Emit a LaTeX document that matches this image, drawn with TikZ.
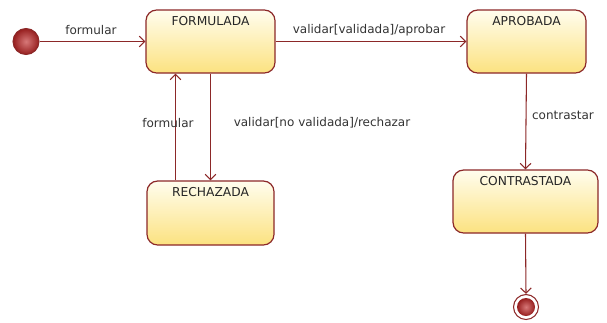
\documentclass[tikz,border=0pt]{standalone}
\usepackage{fontspec}
\setmainfont{DejaVu Sans}
\usetikzlibrary{arrows.meta,shadings}
\definecolor{umlred}{RGB}{140,40,40}
\definecolor{umltop}{RGB}{255,253,238}
\definecolor{umlbot}{RGB}{252,226,128}
\definecolor{umlpink}{RGB}{215,120,120}
\definecolor{umldark}{RGB}{150,30,30}
\newcommand\pxu{0.75pt}
\tikzset{
    state/.style={draw=umlred, line width=0.9pt, rounded corners=8pt,
        top color=umltop, bottom color=umlbot, inner sep=0pt},
    statename/.style={anchor=north, inner sep=0pt, yshift=-7*\pxu,
        font=\fontsize{9.2}{11}\selectfont, text=black!85},
    trans/.style={draw=umlred, line width=0.8pt,
        -{Straight Barb[length=4pt,width=8pt]}},
    guard/.style={font=\fontsize{9}{11}\selectfont, text=black!80, inner sep=0pt},
    initial/.style={circle, draw=umlred, line width=0.8pt, inner color=umlpink,
        outer color=umldark, minimum size=26*\pxu, inner sep=0pt},
    finalring/.style={circle, draw=umlred, line width=0.8pt, fill=white,
        minimum size=25*\pxu, inner sep=0pt},
    finaldot/.style={circle, inner color=umlpink, outer color=umldark,
        minimum size=18*\pxu, inner sep=0pt}
}
\begin{document}
\begin{tikzpicture}[x=0.75pt,y=-0.75pt]
\useasboundingbox (0,0) rectangle (607,322);
% states
\node[initial] (ini) at (26,41.5) {};
\node[state, minimum width=129*\pxu, minimum height=63*\pxu,
    label={[statename]north:FORMULADA}] (formulada) at (210.5,41.5) {};
\node[state, minimum width=119*\pxu, minimum height=63*\pxu,
    label={[statename]north:APROBADA}] (aprobada) at (526.5,41.5) {};
\node[state, minimum width=127*\pxu, minimum height=64*\pxu,
    label={[statename]north:RECHAZADA}] (rechazada) at (210.5,213) {};
\node[state, minimum width=145*\pxu, minimum height=63*\pxu,
    label={[statename]north:CONTRASTADA}] (contrastada) at (525.5,201.5) {};
\node[finalring] (fin) at (526,307) {};
\node[finaldot] (findot) at (fin) {};
% transitions
\draw[trans] (ini) -- (formulada.west);
\draw[trans] (formulada.east) -- (aprobada.west);
\draw[trans] (formulada.south) -- (rechazada.north);
\draw[trans] ([xshift=-35*\pxu]rechazada.north) -- ([xshift=-35*\pxu]formulada.south);
\draw[trans] (aprobada.south) -- (contrastada.north);
\draw[trans] (contrastada.south) -- (fin.north);
% labels
\node[guard] (l1) at (91,30) {formular};
\node[guard] (l2) at (369,30) {validar[validada]/aprobar};
\node[guard] (l3) at (168,123) {formular};
\node[guard] (l4) at (322,123) {validar[no validada]/rechazar};
\node[guard] (l5) at (563,115) {contrastar};
\end{tikzpicture}
\end{document}
